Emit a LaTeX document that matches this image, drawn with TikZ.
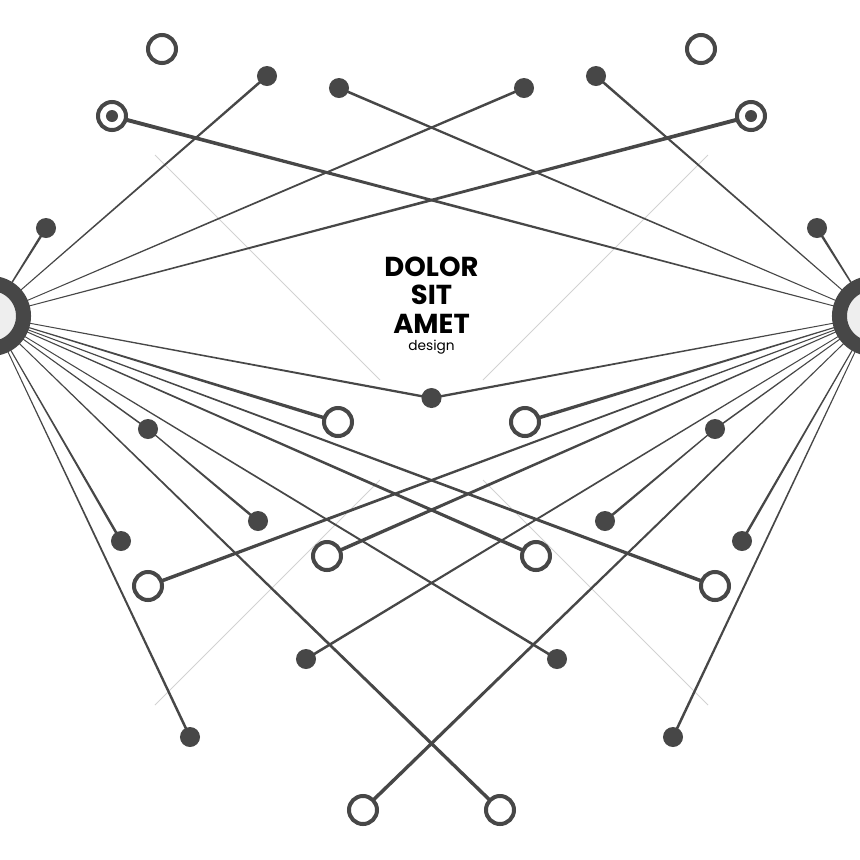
\documentclass[tikz,border=0pt]{standalone}
\usepackage{fontspec}
\setmainfont{Poppins}
\usepackage{tikz}
\usetikzlibrary{calc,backgrounds}
\definecolor{linkcol}{HTML}{474747}
\definecolor{hubfill}{HTML}{EEEEEE}
\definecolor{faintcol}{HTML}{D2D2D2}
\tikzset{
  dotnode/.style={circle,fill=linkcol,inner sep=0pt,minimum size=0.2cm},
  ringnode/.style={circle,draw=linkcol,fill=white,line width=0.04cm,inner sep=0pt,minimum size=0.28cm},
  eyenode/.style={ringnode,path picture={\fill[linkcol] (path picture bounding box.center) circle (0.06cm);}},
  hubnode/.style={circle,draw=linkcol,fill=hubfill,line width=0.15cm,inner sep=0pt,minimum size=0.65cm},
}
% tapered link: node #1 (half width #3) to node #2 (half width #4)
\newcommand{\spoke}[4]{\fill[linkcol] ($(#1.center)!#3!90:(#2.center)$) -- ($(#1.center)!#3!-90:(#2.center)$) -- ($(#2.center)!#4!90:(#1.center)$) -- ($(#2.center)!#4!-90:(#1.center)$) -- cycle;}

\begin{document}
\begin{tikzpicture}[x=0.01cm,y=-0.01cm]
\clip (0,0) rectangle (860,860);
% hubs
\node[hubnode] (hubL) at (-9,316) {};
\node[hubnode] (hubR) at (872,316) {};
% top
\node[ringnode] (ringTL) at (162,49) {};
\node[ringnode] (ringTR) at (701,49) {};
\node[dotnode] (dotTL) at (267,76) {};
\node[dotnode] (dotTR) at (596,76) {};
\node[dotnode] (dotUL) at (339,88) {};
\node[dotnode] (dotUR) at (524,88) {};
\node[eyenode] (eyeL) at (112,116) {};
\node[eyenode] (eyeR) at (751,116) {};
\node[dotnode] (dotSL) at (46,228) {};
\node[dotnode] (dotSR) at (817,228) {};
% middle
\node[dotnode] (dotC) at (431.5,398) {};
\node[ringnode] (ringML) at (338,422) {};
\node[ringnode] (ringMR) at (525,422) {};
\node[dotnode] (dotAL) at (148,429) {};
\node[dotnode] (dotAR) at (715,429) {};
\node[dotnode] (dotBL) at (258,521) {};
\node[dotnode] (dotBR) at (605,521) {};
\node[dotnode] (dotEL) at (121,541) {};
\node[dotnode] (dotER) at (742,541) {};
\node[ringnode] (ringNL) at (327,556) {};
\node[ringnode] (ringNR) at (536,556) {};
\node[ringnode] (ringOL) at (148,586) {};
\node[ringnode] (ringOR) at (715,586) {};
% bottom
\node[dotnode] (dotFL) at (306,659) {};
\node[dotnode] (dotFR) at (557,659) {};
\node[dotnode] (dotGL) at (190,737) {};
\node[dotnode] (dotGR) at (673,737) {};
\node[ringnode] (ringBL) at (363,810) {};
\node[ringnode] (ringBR) at (500,810) {};
% title
\node[inner sep=0pt,anchor=north,align=center,font=\fontsize{7.8}{8.1}\selectfont\bfseries] (title) at (431.5,256) {DOLOR\\SIT\\AMET};
\node[inner sep=0pt,anchor=base,font=\fontsize{3.9}{4}\selectfont] (subtitle) at (431.5,350) {design};

\begin{scope}[on background layer]
% faint cross
\draw[faintcol,line width=0.22pt] (155,155) -- (380,380);
\draw[faintcol,line width=0.22pt] (708,155) -- (483,380);
\draw[faintcol,line width=0.22pt] (380,480) -- (155,705);
\draw[faintcol,line width=0.22pt] (483,480) -- (708,705);
% links
\foreach \a/\b/\w in {dotTL/hubL/0.013cm, dotTR/hubR/0.013cm,
  dotUL/hubR/0.013cm, dotUR/hubL/0.013cm,
  eyeL/hubR/0.02cm, eyeR/hubL/0.02cm,
  dotSL/hubL/0.013cm, dotSR/hubR/0.013cm,
  dotC/hubL/0.012cm, dotC/hubR/0.012cm,
  ringML/hubL/0.018cm, ringMR/hubR/0.018cm,
  dotAL/hubL/0.008cm, dotAR/hubR/0.008cm,
  dotEL/hubL/0.013cm, dotER/hubR/0.013cm,
  ringNL/hubR/0.018cm, ringNR/hubL/0.018cm,
  ringOL/hubR/0.018cm, ringOR/hubL/0.018cm,
  dotFL/hubR/0.013cm, dotFR/hubL/0.013cm,
  dotGL/hubL/0.013cm, dotGR/hubR/0.013cm,
  ringBL/hubR/0.018cm, ringBR/hubL/0.018cm}
  \spoke{\a}{\b}{\w}{0.004cm};
\spoke{dotBL}{dotAL}{0.013cm}{0.006cm}
\spoke{dotBR}{dotAR}{0.013cm}{0.006cm}
\end{scope}
\end{tikzpicture}
\end{document}
